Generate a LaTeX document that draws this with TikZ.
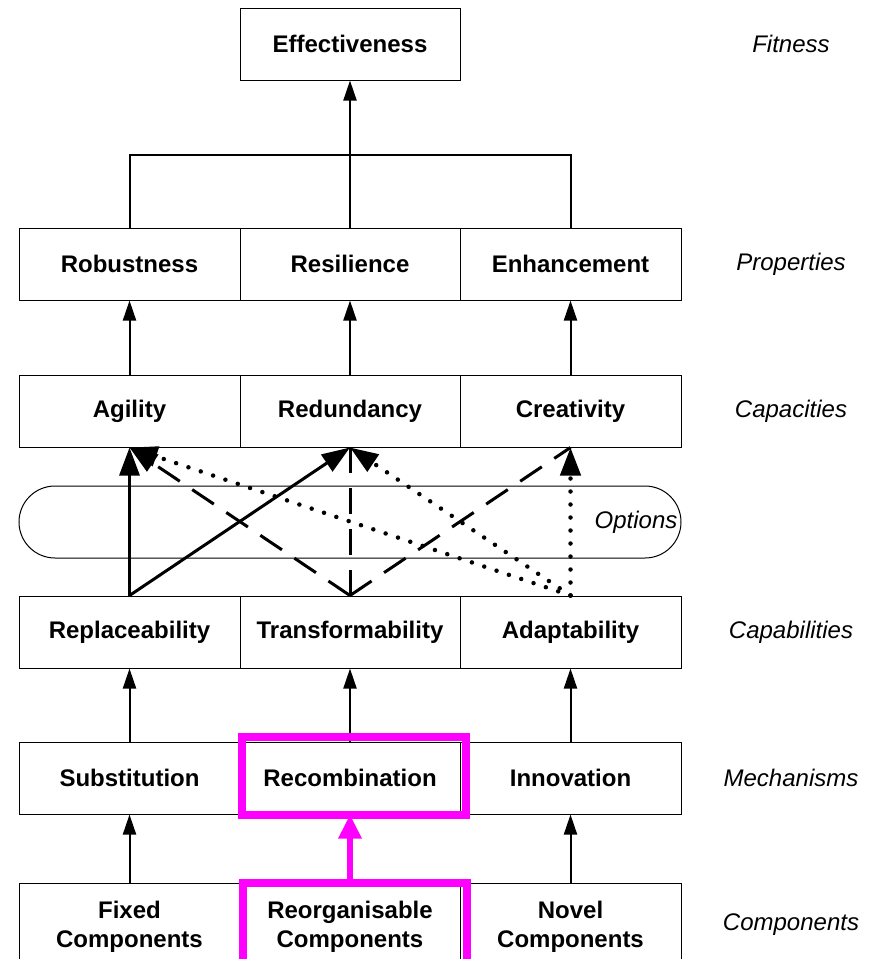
\documentclass[tikz,border=0pt]{standalone}
\usepackage{fontspec}
\setmainfont{Liberation Sans}
\usetikzlibrary{arrows.meta}
\definecolor{mag}{RGB}{255,0,255}
\begin{document}
\begin{tikzpicture}[x=1pt,y=-1pt,
 box/.style={draw,line width=1pt,minimum width=221pt,minimum height=72pt,inner sep=0pt,
   font=\fontsize{24}{29}\selectfont\bfseries,align=center,fill=white},
 lbl/.style={font=\fontsize{24}{29}\selectfont\itshape,inner sep=0pt},
 up/.style={line width=2pt,-{Triangle[width=13pt,length=20pt]}},
 bigup/.style={line width=3pt,-{Triangle[width=20pt,length=28pt]}},
 dsh/.style={line width=3pt,dash pattern=on 26pt off 15pt},
 dts/.style={line width=4.5pt,line cap=round,dash pattern=on 0pt off 13pt},
 hl/.style={draw=mag,line width=8pt}
]
\useasboundingbox (0,0) rectangle (868,959);
\clip (0,0) rectangle (868,959);
% options band
\node (opt) [draw,line width=1pt,rounded corners=36pt,minimum width=662pt,minimum height=72pt] at (350,522) {};
\node (optl) [lbl] at (636,522) {Options};
% boxes
\node (eff) [box,minimum width=220pt] at (350,44) {Effectiveness};
\node (rob) [box] at (129.5,264) {Robustness};
\node (res) [box,minimum width=220pt] at (350,264) {Resilience};
\node (enh) [box] at (570.5,264) {Enhancement};
\node (agi) [box] at (129.5,411) {Agility};
\node (red) [box,minimum width=220pt] at (350,411) {Redundancy};
\node (cre) [box] at (570.5,411) {Creativity};
\node (rep) [box] at (129.5,632) {Replaceability};
\node (tra) [box,minimum width=220pt] at (350,632) {Transformability};
\node (ada) [box] at (570.5,632) {Adaptability};
\node (sub) [box] at (129.5,778) {Substitution};
\node (rec) [box,minimum width=220pt] at (350,778) {Recombination};
\node (inn) [box] at (570.5,778) {Innovation};
\node (fix) [box,minimum height=88pt] at (129.5,927) {Fixed\\Components};
\node (reo) [box,minimum width=220pt,minimum height=88pt] at (350,927) {Reorganisable\\Components};
\node (nov) [box,minimum height=88pt] at (570.5,927) {Novel\\Components};
% side labels
\node (lfit) [lbl] at (791,44) {Fitness};
\node (lpro) [lbl] at (791,264) {Properties};
\node (lcap) [lbl] at (791,411) {Capacities};
\node (lcab) [lbl] at (791,632) {Capabilities};
\node (lmec) [lbl] at (791,778) {Mechanisms};
\node (lcom) [lbl] at (791,925) {Components};
% top tree
\coordinate (bus) at (350,155);
\draw[line width=2pt] (rob.north) |- (bus) -| (enh.north);
\draw[up] (res.north) -- (eff.south);
% capacities -> properties
\draw[up] (agi.north) -- (rob.south);
\draw[up] (red.north) -- (res.south);
\draw[up] (cre.north) -- (enh.south);
% mechanisms -> capabilities
\draw[up] (sub.north) -- (rep.south);
\draw[up] (rec.north) -- (tra.south);
\draw[up] (inn.north) -- (ada.south);
% components -> mechanisms
\draw[up] (fix.north) -- (sub.south);
\draw[up] (reo.north) -- (rec.south);
\draw[up] (nov.north) -- (inn.south);
% options connectors
\draw[dts,-{Triangle[width=20pt,length=28pt]}] (ada.north) -- (agi.south);
\draw[dts,-{Triangle[width=20pt,length=28pt]}] (ada.north) -- (red.south);
\draw[dts,-{Triangle[width=20pt,length=28pt]}] (ada.north) -- (cre.south);
\draw[dsh,-{Triangle[width=20pt,length=28pt]}] (tra.north) -- (agi.south);
\draw[dsh] (tra.north) -- (red.south);
\draw[dsh] (tra.north) -- (cre.south);
\draw[bigup] (rep.north) -- (agi.south);
\draw[bigup] (rep.north) -- (red.south);
% highlights
\draw[hl] (242,737) rectangle (466,815);
\draw[hl] (243,883) rectangle (467,975);
\draw[mag,line width=6pt,-{Triangle[width=22pt,length=24pt]}] (350,879) -- (rec.south);
\end{tikzpicture}
\end{document}
